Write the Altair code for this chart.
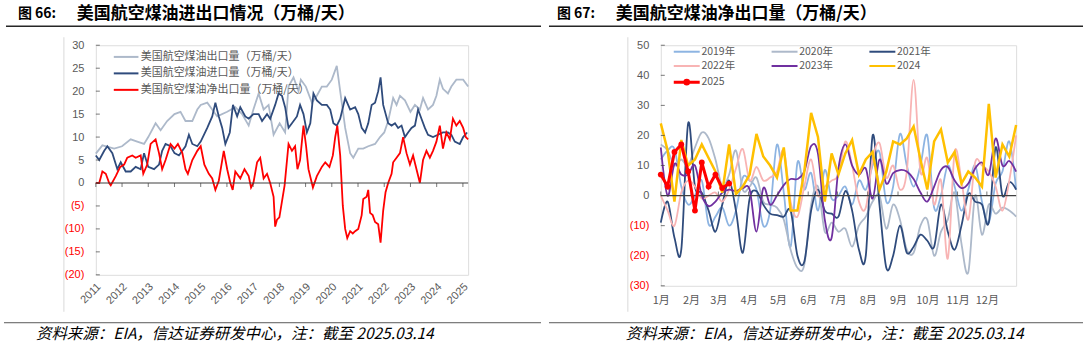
import altair as alt
import pandas as pd

CJK = "Noto Sans CJK SC"
NUM = "Liberation Sans"
GRAY = "#595959"

# ---------------- Left panel data: (decimal year, 万桶/天) ----------------
export_pts = [
    (2011.00, 6.4), (2011.25, 8.2), (2011.70, 7.5), (2012.00, 8), (2012.33, 9.5), (2012.58, 9),
    (2012.84, 8.5), (2013.00, 10), (2013.28, 13), (2013.47, 11.5), (2013.72, 13.5), (2014.00, 15),
    (2014.23, 15.5), (2014.42, 13.5), (2014.68, 13.5), (2014.87, 16), (2015.00, 17), (2015.25, 17.5),
    (2015.63, 14.5), (2016.01, 15.5), (2016.32, 16.5), (2016.58, 15), (2016.83, 12.5), (2017.01, 16),
    (2017.21, 19.5), (2017.40, 16), (2017.59, 17), (2017.78, 10.5), (2018.01, 13), (2018.22, 11),
    (2018.35, 21), (2018.54, 23), (2018.73, 20), (2018.82, 22.5), (2019.01, 21), (2019.24, 17.5),
    (2019.43, 19), (2019.62, 21), (2019.81, 21), (2020.00, 22.5), (2020.19, 25.5), (2020.32, 20),
    (2020.51, 12), (2020.70, 6.5), (2020.82, 5.5), (2021.01, 7.5), (2021.20, 7.5), (2021.39, 8),
    (2021.65, 8.5), (2021.84, 10), (2022.00, 11), (2022.15, 13.5), (2022.34, 18.5), (2022.47, 17),
    (2022.60, 19), (2022.79, 18), (2023.00, 15.5), (2023.17, 17), (2023.36, 16), (2023.48, 18.5),
    (2023.67, 16), (2023.86, 17), (2023.99, 19), (2024.12, 22.5), (2024.24, 20.5), (2024.43, 19.5),
    (2024.56, 21), (2024.75, 22.5), (2025.01, 22.5), (2025.20, 21),
]
import_pts = [
    (2011.00, 6), (2011.13, 5), (2011.32, 7), (2011.44, 8), (2011.63, 6.5), (2011.82, 3),
    (2011.95, 4.5), (2012.14, 2.5), (2012.33, 2.5), (2012.52, 3.5), (2012.71, 3), (2012.84, 6.5),
    (2013.00, 3.5), (2013.22, 3), (2013.41, 4), (2013.53, 7), (2013.66, 8.5), (2013.85, 8),
    (2014.00, 6.5), (2014.17, 6), (2014.42, 8), (2014.55, 10.5), (2014.68, 8.5), (2014.87, 8),
    (2015.00, 9), (2015.25, 12), (2015.44, 14.5), (2015.56, 17.5), (2015.69, 14.5), (2015.82, 12),
    (2015.94, 8.5), (2016.11, 11), (2016.23, 17), (2016.39, 14.5), (2016.51, 16.5), (2016.70, 14.5),
    (2016.83, 14), (2017.01, 15), (2017.21, 15), (2017.34, 13.5), (2017.53, 15), (2017.65, 14),
    (2017.84, 17), (2017.97, 19.5), (2018.10, 19), (2018.22, 16.5), (2018.35, 12), (2018.48, 13),
    (2018.67, 14.5), (2018.79, 17), (2018.92, 15), (2019.05, 11), (2019.18, 13), (2019.30, 19.5),
    (2019.43, 18), (2019.62, 17), (2019.81, 17), (2019.94, 16), (2020.06, 13), (2020.19, 12.5),
    (2020.32, 14), (2020.51, 18.5), (2020.70, 16), (2020.89, 16.5), (2021.01, 15), (2021.14, 12),
    (2021.27, 11), (2021.39, 13), (2021.52, 17), (2021.65, 17.5), (2021.77, 20), (2021.86, 23),
    (2021.96, 17), (2022.15, 13), (2022.28, 12.5), (2022.41, 13), (2022.53, 12), (2022.66, 12.5),
    (2022.79, 10), (2022.91, 11), (2023.04, 12), (2023.17, 12.5), (2023.29, 16), (2023.42, 14),
    (2023.55, 12), (2023.67, 10.5), (2023.86, 10), (2024.05, 10.5), (2024.24, 11), (2024.43, 11),
    (2024.56, 10.5), (2024.69, 9), (2024.88, 8.5), (2025.01, 10), (2025.16, 11),
]
net_pts = [
    (2011.00, 0), (2011.13, 0), (2011.25, 2.5), (2011.38, 2), (2011.51, 0), (2011.57, -0.5),
    (2011.76, 1.5), (2011.93, 3.5), (2012.08, 4), (2012.20, 5.5), (2012.39, 6), (2012.52, 5.5),
    (2012.71, 6), (2012.81, 2), (2012.96, 4), (2013.09, 8.5), (2013.28, 9.5), (2013.41, 6.5),
    (2013.53, 3), (2013.66, 5), (2013.85, 8.5), (2014.00, 7.5), (2014.13, 8.5), (2014.30, 6.5),
    (2014.42, 3), (2014.51, 2), (2014.68, 5), (2014.87, 7), (2015.00, 8), (2015.14, 4),
    (2015.31, 2), (2015.44, 1), (2015.56, -1.5), (2015.69, 0.5), (2015.88, 7), (2016.01, 3),
    (2016.13, 0), (2016.22, -1.5), (2016.32, 2.5), (2016.51, 1), (2016.67, 3), (2016.83, 1.5),
    (2016.92, -1), (2017.01, 0), (2017.15, 4.5), (2017.27, 5.5), (2017.40, 1), (2017.53, 2),
    (2017.65, 0), (2017.78, -3), (2017.84, -9.5), (2017.91, -8), (2018.00, -7.5), (2018.10, -4),
    (2018.20, -0.5), (2018.35, 8.5), (2018.48, 7), (2018.60, 8), (2018.69, 3), (2018.79, 5),
    (2018.92, 12.5), (2019.02, 8), (2019.11, 3), (2019.28, -1), (2019.43, 1.5), (2019.62, 3.5),
    (2019.75, 4.5), (2019.91, 3.5), (2020.04, 6), (2020.13, 10), (2020.21, 12.5), (2020.32, 6),
    (2020.42, -5), (2020.51, -10), (2020.59, -12), (2020.70, -10.5), (2020.80, -11), (2020.89, -10.5),
    (2021.01, -10), (2021.14, -7), (2021.20, -3.5), (2021.33, -3), (2021.39, -1.5), (2021.46, -6.5),
    (2021.56, -7), (2021.65, -8.5), (2021.77, -9), (2021.86, -13), (2021.96, -6), (2022.05, -2),
    (2022.15, 0), (2022.28, 2), (2022.34, 4.5), (2022.47, 5.5), (2022.60, 6.5), (2022.72, 10),
    (2022.85, 6.5), (2022.98, 4), (2023.10, 6), (2023.23, 3), (2023.36, 0), (2023.48, 5),
    (2023.61, 7), (2023.74, 5.5), (2023.86, 7), (2023.99, 9), (2024.12, 12.5), (2024.24, 7.5),
    (2024.37, 11), (2024.50, 9.5), (2024.62, 14), (2024.75, 12.5), (2024.88, 13.5), (2025.01, 12),
    (2025.11, 10), (2025.20, 9.5),
]
left_series = ["美国航空煤油出口量（万桶/天）", "美国航空煤油进口量（万桶/天）", "美国航空煤油净出口量（万桶/天）"]
left_colors = ["#ADB9CA", "#2F4B7C", "#FF0000"]
year_ticks = list(range(2011, 2026))
left_y_ticks = list(range(-20, 31, 5))

# ---------------- Right panel data: weekly net exports ----------------
v2019 = [12, 15, 15.5, 3, -3, 0, 5, -9.5, -7, -4, -10, -5, 6, 5, 2, -10, -5, 17, 1, -17, 11, 2, 7.5, -5,
         8.5, -1, 0, 3, -3, 5, 2, 10, 14.5, -2, 3, 20.5, 10, 3, 10, 20, -4, 0, 10, 3, -5, 2, 10, -2, -9,
         4, 8, 18, 2]
v2020 = [17, 15, 10, 12, 10, 16, 21, 19, 12, 3, 7, 15, 2, 3, 6, -2, -3, -4, -8, -18, -24, -23, -3, 3,
         -12, -9, -12, -11, -17, -10, -7, -2, 0, -11, -3, -8, -18, -19, -10, -8, -20, -12, -8, 1, -16,
         -25.5, 0, -13, -3, -6, -4, -5, -7]
v2021 = [-9, -2, -14, -18, 24, 3, 1, -5, -12, -3, 5, -5, -19, -1, 1.5, -3, -6, -6.5, -7, -5, -20, -22,
         -5, 2, -5, -6, -7, 1.5, -5, -18, -20, 20, -3, -24, -20, -10, -19, -17, -13, -15, -17, -3, -12,
         -18, -10, 0.5, -2, -3, -9, 16, 0, 4.5, 2]
v2022 = [0, -5, -10, 1, 5, 3, -1, 0, 1, -2, 2, 9, 15.5, 5, 9.5, 5, 6, 8, 15, -2, -7, 3, 12, 0, 3, 5, 7,
         18, 10, -2, -4, 12, 17.5, 6, 10, 2, 8, 38.5, 8, 12.5, -3, 5, -21, 14.5, 5, -8, 11, 10, 8, 3, -5,
         5, 20]
v2023 = [16, 0, 10.5, 7, 7, 10, 0, -3.5, -2, 1, 2, 1.5, 2.5, 2, -12, 2.5, -3, 0, 3.5, 5.5, 5.5, 8, 16.5,
         14, -8, -14, 9, 17, 10, 7, 9, -1, 12, 4, 7.5, 8.5, 8, 5.5, 1, -2, 3, 8.5, 9.5, 5, 2.5, 4, 9, 11,
         7, 19, 10, 11.5, 8]
v2024 = [24, 15, -2, 18.5, 10, 12, 17, 12.5, 8, 1, 17, 0.5, 3, 7, 20.5, 13, 10, 6, 16, -5, -5, 8, 27.5,
         19.5, -2, 14, 7, 14, 18.5, 7, 12, 14.5, 2, 8, 18, 17, 19, 23, 12, 2, 18, 22, 11, 14.5, 4, 8, 6,
         3, 30.5, 6, 17, 13, 23.5]
v2025 = [7, 3, 14.5, 17, 8, -5, 11, 3, 7, 2.5, 4]
smooth_names = ["2019年", "2020年", "2021年", "2022年", "2023年"]
names_a = smooth_names + ["2024"]
colors_a = ["#8DB4E2", "#ADB9CA", "#2F4B7C", "#F8B4B4", "#7030A0", "#FFC000"]
name_2025 = "2025"
color_2025 = "#FF0000"
month_labels = ["1月", "2月", "3月", "4月", "5月", "6月", "7月", "8月", "9月", "10月", "11月", "12月"]
month_days = [1, 32, 60, 91, 121, 152, 182, 213, 244, 274, 305, 335]
right_y_ticks = list(range(-30, 51, 10))

# ---------------- Texts ----------------
title_l_num, title_l = "图 66:", "美国航空煤油进出口情况（万桶/天）"
title_r_num, title_r = "图 67:", "美国航空煤油净出口量（万桶/天）"
source_txt = "资料来源：EIA，信达证券研发中心，注：截至 2025.03.14"

# ---------------- Build tables ----------------
rows = []
for name, pts in zip(left_series, [export_pts, import_pts, net_pts]):
    for t, v in pts:
        rows.append({"t": t, "v": v, "s": name})
left_df = pd.DataFrame(rows)


def weekly(name, vals):
    return [{"d": 1 + 7 * i, "v": v, "yr": name} for i, v in enumerate(vals)]


smooth_df = pd.DataFrame(sum([weekly(n, v) for n, v in zip(smooth_names, [v2019, v2020, v2021, v2022, v2023])], []))
df2024 = pd.DataFrame(weekly("2024", v2024))
df2025 = pd.DataFrame(weekly(name_2025, v2025))

one = pd.DataFrame({"k": [0]})
neg_color = {"condition": {"test": "datum.value < 0", "value": "#FF0000"}, "value": GRAY}
paren = "datum.value < 0 ? '(' + abs(datum.value) + ')' : datum.label"


def txt(s, x, y, size, weight="normal", style="normal", color="#000000"):
    return alt.Chart(pd.DataFrame({"s": [s]})).mark_text(
        align="left", baseline="middle", font=CJK, fontSize=size, fontWeight=weight,
        fontStyle=style, color=color
    ).encode(x=alt.value(x), y=alt.value(y), text="s:N")


def hline(x1, x2, y, color, w):
    return alt.Chart(one).mark_rule(color=color, strokeWidth=w).encode(
        x=alt.value(x1), x2=alt.value(x2), y=alt.value(y))


def vline(x, y1, y2, color, w, op=1.0):
    return alt.Chart(one).mark_rule(color=color, strokeWidth=w, opacity=op).encode(
        x=alt.value(x), y=alt.value(y1), y2=alt.value(y2))


# ---------------- Left panel ----------------
lx = alt.Scale(domain=[2011, 2025.2], nice=False, zero=False)
ly = alt.Scale(domain=[-20, 30], nice=False, zero=False)
ax_lx = alt.Axis(values=year_ticks, format="d", labelAngle=-45, labelAlign="right", labelBaseline="middle",
                 labelPadding=10, labelOffset=3, labelFont=NUM, labelFontSize=11, labelColor=GRAY,
                 domain=False, ticks=False, grid=False, labelOverlap=False, labelBound=False,
                 labelFlush=False, title=None)
ax_ly = alt.Axis(values=left_y_ticks, labelExpr=paren, labelColor=neg_color, labelFont=NUM,
                 labelFontSize=11, labelPadding=12, domain=False, ticks=False, grid=False,
                 labelOverlap=False, labelFlush=False, labelBound=False, title=None)


def LX(field=None, datum=None):
    if datum is not None:
        return alt.X(datum=datum, scale=lx, axis=ax_lx, title=None)
    return alt.X(field, type="quantitative", scale=lx, axis=ax_lx, title=None)


def LY(field=None, datum=None):
    if datum is not None:
        return alt.Y(datum=datum, scale=ly, axis=ax_ly, title=None)
    return alt.Y(field, type="quantitative", scale=ly, axis=ax_ly, title=None)


left_lines = alt.Chart(left_df).mark_line(strokeWidth=1.8).encode(
    x=LX("t"), y=LY("v"),
    color=alt.Color("s:N", scale=alt.Scale(domain=left_series, range=left_colors), legend=alt.Legend(
        title=None, orient="none", legendX=23.85, legendY=5.2, direction="vertical",
        symbolType="M-2.245,0H2.245", symbolSize=121, symbolStrokeWidth=2,
        labelFont=CJK, labelFontSize=11, labelColor=GRAY, labelOffset=8.15, rowPadding=4.5,
        padding=0, labelLimit=400)),
    detail="s:N",
)
left_zero = alt.Chart(one).mark_rule(color="#404040", strokeWidth=1.2).encode(y=LY(datum=0))
left_xticks = alt.Chart(pd.DataFrame({"t": year_ticks})).mark_tick(
    orient="vertical", size=4, thickness=1, yOffset=2, color="#404040"
).encode(x=LX("t"), y=LY(datum=0))
left_yticks = alt.Chart(pd.DataFrame({"v": left_y_ticks})).mark_tick(
    orient="horizontal", size=4, thickness=1, xOffset=2, color="#404040"
).encode(x=LX(datum=2011), y=LY("v"))

left = alt.layer(
    vline(-32, -8, 267, "#D9D9D9", 1),
    vline(-95, -44, 302, "#FFFFFF", 0, 0),
    txt(title_l_num, -78, -31, 14, "bold"),
    txt(title_l, -19, -31, 17, "bold"),
    hline(-90, 446, -19, "#262626", 1.5),
    hline(-92, 446, 278, "#595959", 1),
    txt(source_txt, -60, 289, 15.5, style="italic"),
    left_lines, left_zero, left_xticks, left_yticks,
).properties(width=373, height=230)

# ---------------- Right panel ----------------
rx = alt.Scale(domain=[1, 365], nice=False, zero=False)
ry = alt.Scale(domain=[-30, 50], nice=False, zero=False)
month_expr = "[" + ",".join("'%s'" % m for m in month_labels) + "][indexof([" + ",".join(
    str(d) for d in month_days) + "], datum.value)]"
ax_rx = alt.Axis(values=month_days, labelExpr=month_expr, labelAngle=0, labelPadding=9, labelFont=CJK,
                 labelFontSize=11, labelColor=GRAY, domain=False, ticks=False, grid=False,
                 labelOverlap=False, labelFlush=False, labelBound=False, title=None)
ax_ry = alt.Axis(values=right_y_ticks, labelExpr=paren, labelColor=neg_color, labelFont=NUM,
                 labelFontSize=11, labelPadding=12, domain=False, ticks=False, grid=False,
                 labelOverlap=False, labelFlush=False, labelBound=False, title=None)


def RX(field=None, datum=None):
    if datum is not None:
        return alt.X(datum=datum, scale=rx, axis=ax_rx, title=None)
    return alt.X(field, type="quantitative", scale=rx, axis=ax_rx, title=None)


def RY(field=None, datum=None):
    if datum is not None:
        return alt.Y(datum=datum, scale=ry, axis=ax_ry, title=None)
    return alt.Y(field, type="quantitative", scale=ry, axis=ax_ry, title=None)


color_a = alt.Color("yr:N", scale=alt.Scale(domain=names_a, range=colors_a), legend=alt.Legend(
    title=None, orient="none", legendX=19.5, legendY=0.0, columns=3, direction="horizontal",
    symbolType="M-2.3636,0H2.3636", symbolSize=121, symbolStrokeWidth=2,
    labelFont=CJK, labelFontSize=10.5, labelColor=GRAY, labelOffset=8.2, rowPadding=2.3,
    columnPadding=31, padding=0, labelLimit=200))
smooth_lines = alt.Chart(smooth_df).mark_line(strokeWidth=1.8, interpolate="cardinal").encode(
    x=RX("d"), y=RY("v"), color=color_a, detail="yr:N")
line_2024 = alt.Chart(df2024).mark_line(strokeWidth=2.5).encode(x=RX("d"), y=RY("v"), color=color_a)
group_a = alt.layer(smooth_lines, line_2024)

color_b = alt.Color("yr:N", scale=alt.Scale(domain=[name_2025], range=[color_2025]), legend=alt.Legend(
    title=None, orient="none", legendX=19, legendY=30,
    symbolType="M-2.3636,0H2.3636M0.33,0A0.33,0.33,0,1,1,-0.33,0A0.33,0.33,0,1,1,0.33,0Z",
    symbolSize=121, symbolStrokeWidth=3, symbolFillColor=color_2025,
    labelFont=CJK, labelFontSize=10.5, labelColor=GRAY, labelOffset=7.7, padding=0))
line_2025 = alt.Chart(df2025).mark_line(strokeWidth=3).encode(x=RX("d"), y=RY("v"), color=color_b)
pts_2025 = alt.Chart(df2025).mark_circle(size=34, opacity=1, color=color_2025).encode(x=RX("d"), y=RY("v"))
group_b = alt.layer(line_2025, pts_2025)

right_zero = alt.Chart(one).mark_rule(color="#404040", strokeWidth=1.2).encode(y=RY(datum=0))
right_xticks = alt.Chart(pd.DataFrame({"d": month_days})).mark_tick(
    orient="vertical", size=4, thickness=1, yOffset=-2, color="#404040"
).encode(x=RX("d"), y=RY(datum=0))
right_yticks = alt.Chart(pd.DataFrame({"v": right_y_ticks})).mark_tick(
    orient="horizontal", size=4, thickness=1, xOffset=2, color="#404040"
).encode(x=RX(datum=1), y=RY("v"))

right = alt.layer(
    vline(-33, -8, 267, "#D9D9D9", 1),
    vline(427, -44, 302, "#FFFFFF", 0, 0),
    txt(title_r_num, -104, -31, 14, "bold"),
    txt(title_r, -45, -31, 17, "bold"),
    hline(-112, 423, -19, "#262626", 1.5),
    hline(-112, 423, 278, "#595959", 1),
    txt(source_txt, -35, 289, 15.5, style="italic"),
    group_a, right_zero, right_xticks, right_yticks, group_b,
).resolve_scale(color="independent").properties(width=356, height=241)

chart = alt.hconcat(left, right, spacing=193, bounds="flush").resolve_scale(
    x="independent", y="independent", color="independent"
).properties(padding={"left": 0, "top": 0, "right": 0, "bottom": 0}).configure_view(
    stroke="#404040", strokeWidth=1
).configure(background="white")

chart.save("out.html", embed_options={"renderer": "svg", "actions": False})
